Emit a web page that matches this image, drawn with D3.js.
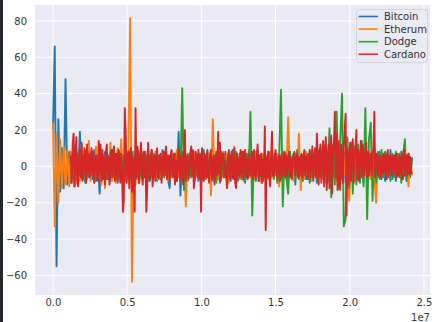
<!DOCTYPE html>
<html><head><meta charset="utf-8">
<script src="https://cdn.jsdelivr.net/npm/d3@7"></script>
<style>
html,body{margin:0;padding:0;background:#fff;}
svg{display:block;font-family:"DejaVu Sans",sans-serif;}
</style></head>
<body><svg id="c" width="436" height="322"></svg>
<script>
// time axis: samples from 0 to 2.42e7
const tStart = 0, tEnd = 2.42e7;
const seriesNames = ["Bitcoin", "Etherum", "Dodge", "Cardano"];
const seriesColors = ["#1f77b4", "#ff7f0e", "#2ca02c", "#d62728"];
const yTicks = [-60, -40, -20, 0, 20, 40, 60, 80];
const xTicks = [0, 0.5e7, 1.0e7, 1.5e7, 2.0e7, 2.5e7];
const xTickLabels = ["0.0", "0.5", "1.0", "1.5", "2.0", "2.5"];

const bitcoin = [20,66,-55,26,-14,10,-12,48,-10,8,
-9,7,-11,8,-6,19,-7,6,-9,7,
-6,8,-7,9,-8,6,-15,7,-6,8,
-7,6,-8,9,-6,7,-9,8,-7,6,
-8,7,-6,9,-7,8,-6,7,-9,6,
-7,8,-6,7,-8,9,-6,7,-8,6,
-7,9,-6,8,-7,-12,8,-6,7,-8,
19,-16,8,-7,6,-8,7,-6,9,-7,
6,-8,7,-6,8,-7,9,-6,7,-8,
6,-7,8,-9,7,-6,8,-7,6,-8,
9,-7,6,-8,7,-6,8,-9,7,-6,
8,-7,6,-8,9,-7,6,-8,7,-6,
8,-7,9,-6,7,-8,6,-7,8,-6,
7,-9,8,-6,7,-10,8,-7,6,-8,
9,-7,6,-8,7,-6,8,-9,7,-6,
8,-7,6,-8,9,-7,8,-6,7,-8,
6,-7,8,-9,7,-6,8,-7,6,-8,
7,-6,8,-9,7,-6,8,-7,6,-8,
7,-6,8,-7,6,-8,7,-6,9,-7,
6,-8,7,-6,8,-7,9,-8,7,-6,
5];

const etherum = [24,-33,18,-20,15,-12,11,-10,9,-11,
8,-7,10,-9,7,-8,12,-6,9,-7,
14,-8,7,-9,11,-6,8,-10,7,-12,
9,-7,13,-8,6,-9,10,-7,15,-8,
7,-9,10,81.5,-63.5,8,-10,7,-9,12,
-6,5,-8,7,-5,6,-5,8,-7,5,
-6,7,-5,6,-8,6,-5,7,-5,9,
-6,5,-7,6,-22,7,-5,5,-6,8,
-5,7,-5,6,-8,5,-6,7,-16,26,
-5,6,-7,5,-6,8,-5,7,-9,6,
-5,11,-6,5,-7,6,-8,7,-5,9,
-6,5,-7,8,-5,6,-9,7,-5,6,
-7,8,-6,5,-5,7,-11,6,-5,8,
-7,27,-6,5,-8,7,-6,18,-13,6,
-7,8,-5,6,-8,7,-5,9,-6,5,
-7,6,-9,8,-5,7,-6,10,-8,6,
-7,9,-5,8,-6,-19,7,-5,10,-7,
6,-8,7,-5,9,-6,8,-7,5,-6,
-20,7,-5,6,-5,8,-6,5,-7,5,
-5,6,-5,7,-6,5,-5,6,-11,5,
-5];

const dodge = [null,null,null,null,null,null,null,null,null,null,
null,null,5,-6,7,-5,6,-7,5,-6,
7,-5,6,-8,5,-6,7,-5,6,-7,
5,-6,8,-5,6,-7,5,-6,7,-5,
6,-7,5,-6,8,-5,6,-7,5,-6,
7,-5,6,-8,5,-6,7,-5,6,-7,
5,-6,8,-5,6,-7,5,-6,7,-5,
6,-7,43,-13,6,-5,7,-6,5,-8,
6,-5,7,-6,9,-7,5,-6,8,-5,
6,-9,7,-5,8,-6,5,-7,6,-5,
7,-6,8,-5,6,-7,5,-8,6,-5,
30,-27,7,-6,5,-8,6,-5,7,-6,
8,-5,6,-7,5,-9,6,42,-22,7,
-6,-15,8,-5,6,-7,9,-6,5,-8,
6,-5,7,-9,8,-6,5,-7,9,-6,
7,-8,10,-9,21,-17,12,-10,30,-12,
14,40,-33,-29,16,-12,13,-15,11,-10,
12,-9,14,-11,32,-29,15,24,-19,10,
-9,8,-7,9,-6,8,-7,6,-8,7,
-6,8,-5,7,-9,6,15,-8,6,-5,
4];

// Cardano is sampled twice as densely
const cardano = [null,null,null,null,null,null,null,null,null,null,
null,null,null,null,null,null,null,null,null,null,
6,-9,12,18,-11,5,16,-7,-11,4,9,-6,13,-8,-5,10,7,-9,12,-4,
7,-6,3,10,-5,8,-9,2,6,-4,-8,14,-3,12,-8,9,-7,5,-10,8,
12,-7,5,-10,3,9,-6,7,11,-8,-5,7,-8,9,4,-9,7,-4,-25,-18,
32,20,-9,6,8,-12,3,10,-14,5,-8,-25,32,-6,11,7,-9,5,13,-4,
-10,8,-6,8,-25,-12,13,4,-7,6,9,-11,-3,6,-8,5,10,-6,-3,6,
7,-9,4,8,-5,6,11,-7,3,6,-8,5,9,-6,-4,7,-10,3,-8,6,
9,-6,5,-7,7,-10,3,20,-8,5,6,-7,-3,7,11,-5,8,-12,-4,8,
5,-6,9,-7,6,-25,10,-3,-8,7,4,-6,8,-5,-9,6,9,-7,4,6,
-10,3,8,-5,19,-4,13,-8,2,7,7,-6,3,-6,-12,5,9,-7,4,8,
-6,-7,10,-9,-12,7,-5,4,-6,9,-4,8,-7,5,9,-6,4,-7,7,-3,
-5,6,8,-7,9,-4,-6,5,12,-8,6,-5,7,-9,4,-6,22,-35,5,-6,
8,-6,-11,5,19,-5,-5,6,9,-3,-7,5,6,-8,4,7,-5,3,8,-6,
6,-5,4,8,-6,5,-7,3,6,8,-5,4,7,-6,5,-5,3,7,-6,5,
8,-5,4,6,-7,3,9,-6,5,11,-8,4,10,-6,18,5,-10,8,12,-9,
6,14,-11,9,16,-13,5,12,-12,8,17,-15,7,13,30,-6,18,-13,14,-8,
-13,12,6,-9,11,20,29,-27,10,-10,4,13,-8,9,15,-9,6,11,20,-7,
9,-8,5,14,-6,12,8,-5,7,13,-6,8,-5,4,7,-5,6,10,30,-6,
5,7,-5,4,6,-6,5,-4,7,-3,6,-7,5,9,-5,4,6,-5,3,6,
-4,5,7,-6,4,-5,6,-4,5,-7,6,9,-5,4,6,-5,7,-4,5,-4,
-3];

const allSeries = [bitcoin, etherum, dodge, cardano];
const timesFor = s => d3.range(s.length).map(i => tStart + (tEnd - tStart) * i / (s.length - 1));

const W = 436, H = 322;
const m = {left: 35, right: 6, top: 5, bottom: 27};
const svg = d3.select("#c");

// dark strip on left edge
svg.append("rect").attr("x", 0).attr("y", 0).attr("width", 3).attr("height", H).attr("fill", "#22262c");

const allVals = allSeries.flat().filter(v => v !== null);
const yMin = d3.min(allVals), yMax = d3.max(allVals);
const yPad = (yMax - yMin) * 0.05, xPad = (tEnd - tStart) * 0.05;

const x = d3.scaleLinear().domain([tStart - xPad, tEnd + xPad]).range([m.left, W - m.right]);
const y = d3.scaleLinear().domain([yMin - yPad, yMax + yPad]).range([H - m.bottom, m.top]);

svg.append("rect").attr("x", m.left).attr("y", m.top)
  .attr("width", W - m.right - m.left).attr("height", H - m.bottom - m.top)
  .attr("fill", "#EAEAF2");

// grid
const g = svg.append("g");
g.selectAll(".gy").data(yTicks).join("line")
  .attr("x1", m.left).attr("x2", W - m.right)
  .attr("y1", d => y(d)).attr("y2", d => y(d))
  .attr("stroke", "#fff").attr("stroke-width", 1);
g.selectAll(".gx").data(xTicks).join("line")
  .attr("y1", m.top).attr("y2", H - m.bottom)
  .attr("x1", d => x(d)).attr("x2", d => x(d))
  .attr("stroke", "#fff").attr("stroke-width", 1);

// axes
const yAxis = d3.axisLeft(y).tickValues(yTicks).tickSize(0).tickPadding(8).tickFormat(d => d < 0 ? "\u2212" + Math.abs(d) : d);
const ya = svg.append("g").attr("transform", `translate(${m.left},0)`).call(yAxis);
ya.select(".domain").remove();
ya.selectAll("text").attr("font-size", 10).attr("fill", "#333").attr("font-family", "DejaVu Sans");

const xAxis = d3.axisBottom(x).tickValues(xTicks).tickSize(0).tickPadding(4).tickFormat((d, i) => xTickLabels[i]);
const xa = svg.append("g").attr("transform", `translate(0,${H - m.bottom})`).call(xAxis);
xa.select(".domain").remove();
xa.selectAll("text").attr("font-size", 10).attr("fill", "#333").attr("font-family", "DejaVu Sans");

svg.append("text").attr("x", W - m.right).attr("y", 320.5).attr("text-anchor", "end")
  .attr("font-size", 10).attr("fill", "#333").text("1e7");

// lines
svg.append("clipPath").attr("id", "pc").append("rect")
  .attr("x", m.left).attr("y", m.top).attr("width", W - m.right - m.left).attr("height", H - m.bottom - m.top);
const line = d3.line().defined(d => d[1] !== null).x(d => x(d[0])).y(d => y(d[1]));
const lg = svg.append("g").attr("clip-path", "url(#pc)");
allSeries.forEach((s, k) => {
  const ts = timesFor(s);
  lg.append("path").datum(s.map((v, i) => [ts[i], v]))
    .attr("d", line).attr("fill", "none").attr("stroke", seriesColors[k])
    .attr("stroke-width", 1.9).attr("stroke-linejoin", "round");
});

// legend
const leg = svg.append("g");
leg.append("rect").attr("x", 356.5).attr("y", 9.5).attr("width", 71).attr("height", 53).attr("rx", 3)
  .attr("fill", "#EAEAF2").attr("fill-opacity", 0.8).attr("stroke", "#d4d4dc").attr("stroke-width", 1);
seriesNames.forEach((n, k) => {
  const yy = 16.5 + k * 12.6;
  leg.append("line").attr("x1", 358.5).attr("x2", 378).attr("y1", yy).attr("y2", yy)
    .attr("stroke", seriesColors[k]).attr("stroke-width", 1.6);
  leg.append("text").attr("x", 384).attr("y", yy).attr("dy", "0.35em")
    .attr("font-size", 10).attr("fill", "#333").text(n);
});
</script></body></html>
